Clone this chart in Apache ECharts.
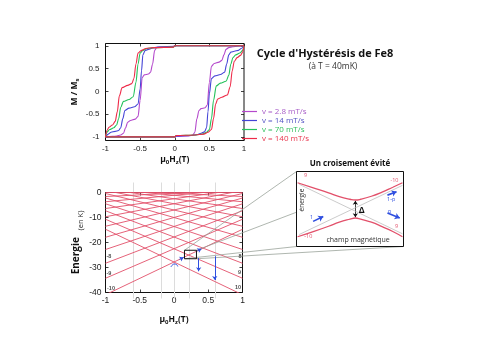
<!DOCTYPE html>
<html>
<head>
<meta charset="utf-8">
<script src="https://cdn.jsdelivr.net/npm/echarts@6.0.0/dist/echarts.min.js"></script>
<style>
html,body{margin:0;padding:0;background:#fff;}
#chart{width:500px;height:355px;}
</style>
</head>
<body>
<div id="chart"></div>
<script>
// ---------------- Top: hysteresis loops of Fe8 ----------------
const sweepNames = ['v = 2.8 mT/s', 'v = 14 mT/s', 'v = 70 mT/s', 'v = 140 mT/s'];
const sweepColors = ['#b448cc', '#4444d6', '#22c25a', '#ee2a48'];
const sweepTextColors = ['#a85cc8', '#5252c4', '#2fbf5c', '#e8344c'];
const tickValuesTop = [-1, -0.5, 0, 0.5, 1];

// v = 2.8 mT/s
const upFieldV28 = [-1, 0, 0.02, 0.2, 0.26, 0.29, 0.32, 0.35, 0.38, 0.44, 0.47, 0.5, 0.53, 0.57, 0.64, 0.68, 0.71, 0.74, 0.78, 0.84, 0.9, 1];
const upMagV28 = [-1, -1, -0.99, -0.98, -0.96, -0.9, -0.6, -0.42, -0.38, -0.36, -0.3, 0.2, 0.55, 0.61, 0.64, 0.68, 0.8, 0.92, 0.96, 0.98, 0.99, 1];
const downFieldV28 = [1, 0, -0.02, -0.2, -0.26, -0.29, -0.32, -0.35, -0.38, -0.44, -0.47, -0.5, -0.53, -0.57, -0.64, -0.68, -0.71, -0.74, -0.78, -0.84, -0.9, -1];
const downMagV28 = [1, 1, 0.99, 0.98, 0.96, 0.9, 0.6, 0.42, 0.38, 0.36, 0.3, -0.2, -0.55, -0.61, -0.64, -0.68, -0.8, -0.92, -0.96, -0.98, -0.99, -1];

// v = 14 mT/s
const upFieldV14 = [-1, 0, 0.02, 0.25, 0.32, 0.38, 0.43, 0.46, 0.48, 0.5, 0.53, 0.58, 0.66, 0.72, 0.75, 0.78, 0.81, 0.86, 0.92, 0.96, 1];
const upMagV14 = [-1, -1, -0.98, -0.97, -0.95, -0.92, -0.89, -0.8, -0.45, -0.05, 0.28, 0.34, 0.37, 0.42, 0.6, 0.8, 0.86, 0.88, 0.9, 0.94, 1];
const downFieldV14 = [1, 0, -0.02, -0.25, -0.32, -0.38, -0.43, -0.46, -0.48, -0.5, -0.53, -0.58, -0.66, -0.72, -0.75, -0.78, -0.81, -0.86, -0.92, -0.96, -1];
const downMagV14 = [1, 1, 0.98, 0.97, 0.95, 0.92, 0.89, 0.8, 0.45, 0.05, -0.28, -0.34, -0.37, -0.42, -0.6, -0.8, -0.86, -0.88, -0.9, -0.94, -1];

// v = 70 mT/s
const upFieldV70 = [-1, 0, 0.02, 0.3, 0.4, 0.46, 0.5, 0.53, 0.56, 0.6, 0.66, 0.74, 0.78, 0.81, 0.84, 0.88, 0.94, 0.98, 1];
const upMagV70 = [-1, -1, -0.97, -0.96, -0.94, -0.9, -0.84, -0.6, -0.2, 0.12, 0.18, 0.22, 0.35, 0.6, 0.74, 0.8, 0.84, 0.9, 1];
const downFieldV70 = [1, 0, -0.02, -0.3, -0.4, -0.46, -0.5, -0.53, -0.56, -0.6, -0.66, -0.74, -0.78, -0.81, -0.84, -0.88, -0.94, -0.98, -1];
const downMagV70 = [1, 1, 0.97, 0.96, 0.94, 0.9, 0.84, 0.6, 0.2, -0.12, -0.18, -0.22, -0.35, -0.6, -0.74, -0.8, -0.84, -0.9, -1];

// v = 140 mT/s
const upFieldV140 = [-1, 0, 0.02, 0.3, 0.42, 0.48, 0.53, 0.56, 0.59, 0.62, 0.68, 0.76, 0.8, 0.83, 0.86, 0.9, 0.95, 0.98, 1];
const upMagV140 = [-1, -1, -0.97, -0.96, -0.94, -0.9, -0.84, -0.6, -0.28, -0.17, -0.13, -0.08, 0.1, 0.45, 0.66, 0.74, 0.79, 0.86, 1];
const downFieldV140 = [1, 0, -0.02, -0.3, -0.42, -0.48, -0.53, -0.56, -0.59, -0.62, -0.68, -0.76, -0.8, -0.83, -0.86, -0.9, -0.95, -0.98, -1];
const downMagV140 = [1, 1, 0.97, 0.96, 0.94, 0.9, 0.84, 0.6, 0.28, 0.17, 0.13, 0.08, -0.1, -0.45, -0.66, -0.74, -0.79, -0.86, -1];

// ---------------- Bottom: energy levels (K) vs field ----------------
const levelM = [-10, -9, -8, -7, -6, -5, -4, -3, -2, -1, 0, 1, 2, 3, 4, 5, 6, 7, 8, 9, 10];
const levelField = [-1, 0, 1];
const levelEnergy = [
  [-40.9, -27.8, -14.7], [-34.3, -22.5, -10.7], [-28.3, -17.8, -7.3], [-22.8, -13.6, -4.5],
  [-17.9, -10.0, -2.2], [-13.5, -7.0, -0.4], [-9.7, -4.5, 0.8], [-6.4, -2.5, 1.4],
  [-3.7, -1.1, 1.5], [-1.6, -0.3, 1.0], [0, 0, 0], [1.0, -0.3, -1.6],
  [1.5, -1.1, -3.7], [1.4, -2.5, -6.4], [0.8, -4.5, -9.7], [-0.4, -7.0, -13.5],
  [-2.2, -10.0, -17.9], [-4.5, -13.6, -22.8], [-7.3, -17.8, -28.3], [-10.7, -22.5, -34.3],
  [-14.7, -27.8, -40.9]
];
const levelLabelText = ['-8', '-9', '-10', '8', '9', '10'];
const levelLabelField = [-0.95, -0.95, -0.92, 0.965, 0.955, 0.935];
const levelLabelEnergy = [-25.5, -32.3, -38.3, -25.5, -31.8, -38.1];
const resonanceGuides = [-0.6, -0.19, 0, 0.22, 0.6];
const zoomBoxField = [0.153, 0.328];
const zoomBoxEnergy = [-26.5, -23.1];
const tunnelArrowField = [[0.08, 0.14], [0.34, 0.40]];
const tunnelArrowEnergy = [[-26.75, -25.96], [-23.35, -22.56]];
const relaxArrowField = [0.36, 0.595];
const relaxArrowEnergy = [[-26.2, -31.5], [-25.5, -35]];
const zeroArcField = [-0.045, -0.02, 0.01, 0.04, 0.055];
const zeroArcEnergy = [-29.8, -28.9, -28.6, -28.9, -29.6];

// ---------------- Inset: avoided crossing ----------------
const insetField = [-0.98, -0.7, -0.4, -0.2, 0, 0.1, 0.2, 0.4, 0.6, 0.8, 0.98];
const insetUpper = [0.70, 0.57, 0.43, 0.33, 0.26, 0.24, 0.26, 0.34, 0.45, 0.58, 0.70];
const insetLower = [-0.74, -0.61, -0.46, -0.35, -0.27, -0.24, -0.27, -0.35, -0.47, -0.6, -0.74];
const insetDiagField = [-0.95, 0.98];
const insetDiagA = [-0.68, 0.63];
const insetDiagB = [0.66, -0.66];
const gapArrowField = 0.1;
const gapArrowEnergy = [0.22, -0.22];
const insetArrowStart = [[-0.69, -0.33], [0.70, 0.37], [0.70, -0.105]];
const insetArrowEnd = [[-0.5, -0.2], [0.87, 0.46], [0.93, -0.24]];

// ---------------- build ----------------
const zip = (a, b) => a.map((v, i) => [v, b[i]]);
const tickFont = 'Liberation Sans';
const textFont = 'Open Sans';
const levelColor = '#e2506a';

const hystData = [
  [zip(upFieldV28, upMagV28), zip(downFieldV28, downMagV28)],
  [zip(upFieldV14, upMagV14), zip(downFieldV14, downMagV14)],
  [zip(upFieldV70, upMagV70), zip(downFieldV70, downMagV70)],
  [zip(upFieldV140, upMagV140), zip(downFieldV140, downMagV140)]
];

const series = [];
hystData.forEach((pair, i) => {
  pair.forEach(d => series.push({
    type: 'line', name: sweepNames[i], xAxisIndex: 0, yAxisIndex: 0, data: d,
    showSymbol: false, smooth: 0.3, smoothMonotone: 'x', silent: true,
    lineStyle: { color: sweepColors[i], width: 1.1 }, itemStyle: { color: sweepColors[i] }, z: 2 + i * 0.1
  }));
});

levelEnergy.forEach((e, i) => series.push({
  type: 'line', name: 'm' + levelM[i], xAxisIndex: 2, yAxisIndex: 2, data: zip(levelField, e),
  showSymbol: false, silent: true, clip: true,
  lineStyle: { color: levelColor, width: 0.9 }, z: 2
}));

series.push({
  type: 'scatter', xAxisIndex: 2, yAxisIndex: 2, symbolSize: 0, silent: true, z: 3,
  data: levelLabelText.map((t, i) => [levelLabelField[i], levelLabelEnergy[i], t]),
  label: { show: true, position: 'inside', formatter: p => p.value[2], fontSize: 5.5, fontWeight: 'bold', color: '#222', fontFamily: tickFont }
});

series.push({
  type: 'line', xAxisIndex: 2, yAxisIndex: 2, showSymbol: false, silent: true, z: 4,
  data: [[zoomBoxField[0], zoomBoxEnergy[1]], [zoomBoxField[1], zoomBoxEnergy[1]], [zoomBoxField[1], zoomBoxEnergy[0]], [zoomBoxField[0], zoomBoxEnergy[0]], [zoomBoxField[0], zoomBoxEnergy[1]]],
  lineStyle: { color: '#111', width: 1 }
});

const blue = '#2f4fe0';
series.push({
  type: 'line', xAxisIndex: 2, yAxisIndex: 2, showSymbol: false, silent: true, z: 4,
  data: zip(zeroArcField, zeroArcEnergy), smooth: true,
  lineStyle: { color: blue, width: 1 },
  markLine: {
    silent: true, symbol: ['none', 'arrow'], symbolSize: 4, label: { show: false },
    lineStyle: { color: blue, width: 1, type: 'solid' },
    data: [
      [{ coord: [tunnelArrowField[0][0], tunnelArrowEnergy[0][0]] }, { coord: [tunnelArrowField[0][1], tunnelArrowEnergy[0][1]] }],
      [{ coord: [tunnelArrowField[1][0], tunnelArrowEnergy[1][0]] }, { coord: [tunnelArrowField[1][1], tunnelArrowEnergy[1][1]] }],
      [{ coord: [relaxArrowField[0], relaxArrowEnergy[0][0]] }, { coord: [relaxArrowField[0], relaxArrowEnergy[0][1]] }],
      [{ coord: [relaxArrowField[1], relaxArrowEnergy[1][0]] }, { coord: [relaxArrowField[1], relaxArrowEnergy[1][1]] }]
    ]
  }
});

// inset series
series.push({ type: 'line', xAxisIndex: 4, yAxisIndex: 4, showSymbol: false, silent: true, z: 6,
  data: zip(insetDiagField, insetDiagA), lineStyle: { color: '#b4b4b4', width: 0.7 } });
series.push({ type: 'line', xAxisIndex: 4, yAxisIndex: 4, showSymbol: false, silent: true, z: 6,
  data: zip(insetDiagField, insetDiagB), lineStyle: { color: '#b4b4b4', width: 0.7 } });
series.push({ type: 'line', xAxisIndex: 4, yAxisIndex: 4, showSymbol: false, silent: true, z: 6, smooth: true,
  data: zip(insetField, insetUpper), lineStyle: { color: levelColor, width: 1.3 } });
series.push({ type: 'line', xAxisIndex: 4, yAxisIndex: 4, showSymbol: false, silent: true, z: 6, smooth: true,
  data: zip(insetField, insetLower), lineStyle: { color: levelColor, width: 1.3 },
  markLine: {
    silent: true, symbol: ['arrow', 'arrow'], symbolSize: 4, label: { show: false },
    lineStyle: { color: '#111', width: 0.8, type: 'solid' },
    data: [[{ coord: [gapArrowField, gapArrowEnergy[0]] }, { coord: [gapArrowField, gapArrowEnergy[1]] }]]
  }
});
series.push({ type: 'line', xAxisIndex: 4, yAxisIndex: 4, showSymbol: false, silent: true, z: 6, data: [],
  markLine: {
    silent: true, symbol: ['none', 'arrow'], symbolSize: 5, label: { show: false },
    lineStyle: { color: blue, width: 1.6, type: 'solid' },
    data: insetArrowStart.map((s, i) => [{ coord: s }, { coord: insetArrowEnd[i] }])
  }
});

const tickStyle = { inside: true, length: 3, lineStyle: { color: '#111', width: 0.8 } };
const noLine = { show: false, onZero: false };
const labelStyle = { fontSize: 8, color: '#222', fontFamily: tickFont };
const nameRich = {
  b: { fontSize: 8.5, fontWeight: 'bold', fontFamily: textFont, color: '#111' },
  s: { fontSize: 6, fontWeight: 'bold', fontFamily: textFont, color: '#111', padding: [5, 0, 0, 0] }
};

const option = {
  animation: false,
  backgroundColor: '#fff',
  grid: [
    { left: 105.5, top: 43.5, width: 138.5, height: 97, show: true, borderColor: '#111', borderWidth: 1, backgroundColor: 'transparent' },
    { left: 105.5, top: 192.5, width: 137, height: 100, show: true, borderColor: '#111', borderWidth: 1, backgroundColor: 'transparent' },
    { left: 296.5, top: 171.5, width: 107, height: 75, show: false }
  ],
  legend: {
    left: 237, top: 102, orient: 'vertical', icon: 'rect', itemWidth: 15, itemHeight: 1.2, itemGap: 0,
    selectedMode: false,
    textStyle: { fontSize: 8, lineHeight: 9, fontFamily: textFont },
    data: sweepNames.map((n, i) => ({ name: n, textStyle: { color: sweepTextColors[i] } }))
  },
  xAxis: [
    { gridIndex: 0, type: 'value', min: -1, max: 1, interval: 0.5, position: 'bottom',
      axisLine: noLine, axisTick: tickStyle, axisLabel: Object.assign({ margin: 4 }, labelStyle), splitLine: { show: false },
      name: '{b|μ}{s|0}{b|H}{s|z}{b|(T)}', nameLocation: 'middle', nameGap: 14, nameTextStyle: { rich: nameRich } },
    { gridIndex: 0, type: 'value', min: -1, max: 1, interval: 0.5, position: 'top',
      axisLine: noLine, axisTick: tickStyle, axisLabel: { show: false }, splitLine: { show: false } },
    { gridIndex: 1, type: 'value', min: -1, max: 1, interval: 0.5, position: 'bottom',
      axisLine: noLine, axisTick: tickStyle, axisLabel: Object.assign({ margin: 4 }, labelStyle, { fontSize: 8.5 }), splitLine: { show: false },
      name: '{b|μ}{s|0}{b|H}{s|z}{b|(T)}', nameLocation: 'middle', nameGap: 22, nameTextStyle: { rich: nameRich } },
    { gridIndex: 1, type: 'value', min: -1, max: 1, interval: 0.5, position: 'top',
      axisLine: noLine, axisTick: tickStyle, axisLabel: { show: false }, splitLine: { show: false } },
    { gridIndex: 2, type: 'value', min: -1, max: 1, show: false }
  ],
  yAxis: [
    { gridIndex: 0, type: 'value', min: -1.08, max: 1.05, position: 'left',
      axisLine: noLine, axisTick: Object.assign({ customValues: tickValuesTop }, tickStyle),
      axisLabel: Object.assign({ margin: 6, customValues: tickValuesTop }, labelStyle), splitLine: { show: false },
      name: '{b|M / M}{s|s}', nameLocation: 'middle', nameRotate: 90, nameGap: 25, nameTextStyle: { rich: nameRich } },
    { gridIndex: 0, type: 'value', min: -1.08, max: 1.05, position: 'right',
      axisLine: noLine, axisTick: Object.assign({ customValues: tickValuesTop }, tickStyle),
      axisLabel: { show: false }, splitLine: { show: false } },
    { gridIndex: 1, type: 'value', min: -40, max: 0, interval: 10, position: 'left',
      axisLine: noLine, axisTick: tickStyle, axisLabel: Object.assign({ margin: 4 }, labelStyle, { fontSize: 8.5 }), splitLine: { show: false },
      name: '{e|Energie}  {k|(en K)}', nameLocation: 'middle', nameRotate: 90, nameGap: 18,
      nameTextStyle: { rich: {
        e: { fontSize: 10, fontWeight: 'bold', fontFamily: textFont, color: '#111' },
        k: { fontSize: 7.5, fontFamily: textFont, color: '#222', padding: [10, 0, 0, 0] } } } },
    { gridIndex: 1, type: 'value', min: -40, max: 0, interval: 10, position: 'right',
      axisLine: noLine, axisTick: tickStyle, axisLabel: { show: false }, splitLine: { show: false } },
    { gridIndex: 2, type: 'value', min: -1, max: 1, show: false }
  ],
  series: series
};

const chart = echarts.init(document.getElementById('chart'));
chart.setOption(option);

const P = (g, pt) => chart.convertToPixel({ gridIndex: g }, pt);
const gfx = [];
// faint resonance guides
resonanceGuides.forEach(f => {
  const a = P(1, [f, 0]), b = P(1, [f, -40]);
  const x = Math.round(a[0]) + 0.5;
  gfx.push({ type: 'line', z: 1, silent: true, shape: { x1: x, y1: a[1] - 10, x2: x, y2: b[1] + 6 }, style: { stroke: '#dcdcdc', lineWidth: 1 } });
});
// connectors from zoom box to inset
const bTL = P(1, [zoomBoxField[0], zoomBoxEnergy[1]]), bTR = P(1, [zoomBoxField[1], zoomBoxEnergy[1]]);
const bBL = P(1, [zoomBoxField[0], zoomBoxEnergy[0]]), bBR = P(1, [zoomBoxField[1], zoomBoxEnergy[0]]);
const iTL = P(2, [-1, 1]), iTR = P(2, [1, 1]), iBL = P(2, [-1, -1]), iBR = P(2, [1, -1]);
[[bTL, iTL], [bTR, iTR], [bBL, iBL], [bBR, iBR]].forEach(([a, b]) => {
  gfx.push({ type: 'line', z: 3, silent: true, shape: { x1: a[0], y1: a[1], x2: b[0], y2: b[1] }, style: { stroke: '#9aa39a', lineWidth: 0.8 } });
});
gfx.push({ type: 'rect', z: 4, silent: true, shape: { x: iTL[0], y: iTL[1], width: iTR[0] - iTL[0], height: iBL[1] - iTL[1] }, style: { fill: '#fff', stroke: '#111', lineWidth: 1 } });

function txt(x, y, text, size, opts) {
  gfx.push({ type: 'text', z: 8, silent: true, x: x, y: y, rotation: (opts && opts.rot) || 0,
    style: Object.assign({ text: text, align: 'center', verticalAlign: 'middle', fontSize: size, fontFamily: textFont, fill: '#111' }, opts && opts.style) });
}
// titles
txt(325, 54, "Cycle d'Hystérésis de Fe8", 11, { style: { fontWeight: 'bold' } });
txt(333, 67, '(à T = 40mK)', 8.5, { style: { fill: '#333' } });
txt((iTL[0] + iTR[0]) / 2, iTL[1] - 8, 'Un croisement évité', 8, { style: { fontWeight: 'bold' } });
// inset annotations
const iT = (pt, text, size, opts) => { const p = P(2, pt); txt(p[0], p[1], text, size, opts); };
iT([-0.83, 0.89], '9', 5.5, { style: { fill: levelColor } });
iT([0.83, 0.76], '-10', 5.5, { style: { fill: levelColor } });
iT([-0.78, -0.73], '-10', 5.5, { style: { fill: levelColor } });
iT([0.87, -0.47], '9', 5.5, { style: { fill: levelColor } });
iT([-0.72, -0.22], '1', 5.5, { style: { fill: blue } });
iT([0.77, 0.25], '1-p', 5.5, { style: { fill: blue } });
iT([0.74, -0.07], 'p', 5.5, { style: { fill: blue } });
iT([0.22, -0.03], 'Δ', 9, { style: { fontWeight: 'bold' } });
iT([-0.89, 0.24], 'énergie', 6.5, { rot: Math.PI / 2, style: { fill: '#333' } });
iT([0.15, -0.83], 'champ magnétique', 7, { style: { fill: '#333' } });

chart.setOption({ graphic: gfx });
</script>
</body>
</html>
